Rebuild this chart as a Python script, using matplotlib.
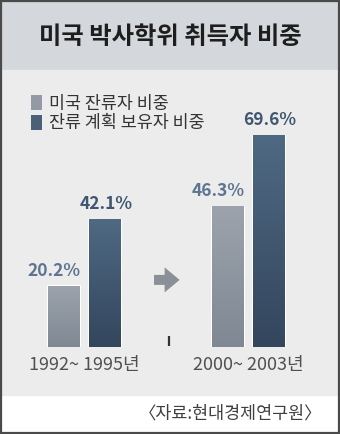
import numpy as np
import matplotlib.pyplot as plt
import matplotlib.patches as mpatches
from matplotlib.colors import LinearSegmentedColormap

plt.rcParams['font.family'] = ['Noto Sans CJK KR', 'DejaVu Sans']

title = '미국 박사학위 취득자 비중'
periods = ['1992~ 1995년', '2000~ 2003년']
series_names = ['미국 잔류자 비중', '잔류 계획 보유자 비중']
stay = [20.2, 46.3]
plan = [42.1, 69.6]
source = '〈자료:현대경제연구원〉'

W, H = 340, 434
fig = plt.figure(figsize=(W / 100, H / 100), dpi=100)
fig.patch.set_facecolor('white')

# background bands (pixel coords -> figure fraction)
def band(y0, y1, color):
    fig.patches.append(mpatches.Rectangle((0, 1 - y1 / H), 1, (y1 - y0) / H,
                                          transform=fig.transFigure, color=color, zorder=-2))

band(0, 70, '#d4d7db')
band(70, 395, '#ececec')
fig.patches.append(mpatches.Rectangle((0.003, 0.003), 0.994, 0.994, transform=fig.transFigure,
                                      fill=False, edgecolor='#4a4a4a', lw=1.6, zorder=5))

fig.text(0.5, 1 - 37 / H, title, ha='center', va='center', fontsize=17.5,
         fontweight='bold', color='#1e1e1e')

# bar axes: baseline at y=347px, top at y=70px, 3.05 px per percent
base, top = 347, 70
ax = fig.add_axes([0, 1 - base / H, 1, (base - top) / H])
ax.set_facecolor('none')
ax.set_ylim(0, (base - top) / 3.05)
ax.set_xlim(-84 / 164, (W - 84) / 164)
ax.axis('off')

x = np.arange(len(periods))
bw, off = 0.205, 0.124
b1 = ax.bar(x - off, stay, bw, color='#939aa5', edgecolor='white', lw=0.8, label=series_names[0])
b2 = ax.bar(x + off, plan, bw, color='#4a6079', edgecolor='white', lw=0.8, label=series_names[1])

# vertical gradient fill inside each bar
cm_light = LinearSegmentedColormap.from_list('l', ['#7f8893', '#9ca3ad'])
cm_dark = LinearSegmentedColormap.from_list('d', ['#33465d', '#4f6983'])
grad = np.linspace(0, 1, 100).reshape(-1, 1)
for bars, cm in ((b1, cm_light), (b2, cm_dark)):
    for b in bars:
        x0, w, h = b.get_x(), b.get_width(), b.get_height()
        pad = 0.006
        ax.imshow(grad, extent=(x0 + pad, x0 + w - pad, 0, h - 0.3), origin='lower',
                  cmap=cm, aspect='auto', zorder=3)

for b, v in zip(b1, stay):
    ax.annotate(f'{v}%', (b.get_x() + b.get_width() / 2, v), xytext=(-7, 4),
                textcoords='offset points', ha='center', va='bottom', fontsize=12.5,
                fontweight='bold', color='#5d7590')
for b, v in zip(b2, plan):
    ax.annotate(f'{v}%', (b.get_x() + b.get_width() / 2, v), xytext=(1, 4),
                textcoords='offset points', ha='center', va='bottom', fontsize=12.5,
                fontweight='bold', color='#3f5670')

for xi, lab in zip(x, periods):
    ax.text(xi, -6.0, lab, ha='center', va='center', fontsize=13, color='#505050',
            fontweight='light')

# arrow and small tick between groups
ax.add_patch(mpatches.FancyArrowPatch((0.41, 22), (0.60, 22),
                                      arrowstyle='simple,head_width=1.5,head_length=0.9,tail_width=0.6',
                                      mutation_scale=12, color='#8b9098', lw=0))
ax.plot([0.52, 0.52], [0.3, 3.5], color='#333333', lw=1.6, solid_capstyle='butt')

leg = ax.legend(loc='upper left', bbox_to_anchor=(22 / W, 1 - (86 - top) / (base - top)),
                frameon=False, fontsize=12.5, handlelength=0.65, handleheight=0.95,
                handletextpad=0.4, labelspacing=0.1, borderpad=0, labelcolor='#333333')
for hnd in leg.legend_handles:
    hnd.set_edgecolor('none')

fig.text(322 / W, 1 - 413 / H, source, ha='right', va='center', fontsize=12.5, color='#404040')

fig.savefig('out.png', dpi=100)
